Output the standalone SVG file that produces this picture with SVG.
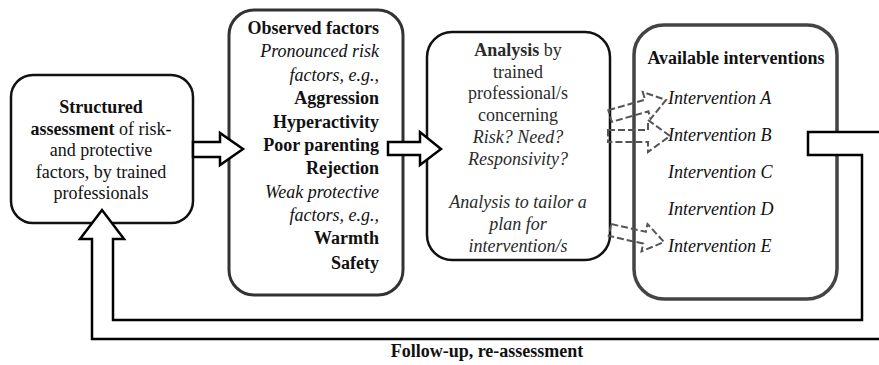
<svg xmlns="http://www.w3.org/2000/svg" width="879" height="365" viewBox="0 0 879 365" font-family="'Liberation Serif', Tinos, 'Times New Roman', 'DejaVu Serif', serif">
<style>
.bg{fill:#fff}
.box{fill:#fff;stroke:#111;stroke-width:2.5}
.box2{fill:#fff;stroke:#333;stroke-width:3}
.box4{fill:none;stroke:#444;stroke-width:3.5}
text{font-family:'Liberation Serif', Tinos, 'Times New Roman', 'DejaVu Serif', serif;font-size:18px;fill:#111}
.b{font-weight:bold}
.i{font-style:italic}
.c{text-anchor:middle}
.r{text-anchor:end}
.g{fill:#2a2a2a}
.arrow{fill:#fff;stroke:#000;stroke-width:2.5;stroke-linejoin:miter}
.dash{fill:none;stroke:#555;stroke-width:2;stroke-dasharray:7 3}
</style>
<rect class="bg" x="0" y="0" width="879" height="365"/>

<g id="node-assessment">
<rect class="box" x="11" y="75" width="182" height="148" rx="22"/>
<text class="c" x="101" y="113"><tspan class="b">Structured</tspan></text>
<text class="c" x="101" y="135"><tspan class="b">assessment</tspan> of risk-</text>
<text class="c" x="101" y="156">and protective</text>
<text class="c" x="101" y="178">factors, by trained</text>
<text class="c" x="101" y="199">professionals</text>
</g>

<g id="node-observed">
<rect class="box2" x="229" y="10" width="174" height="285" rx="25"/>
<text class="r b" x="379" y="34">Observed factors</text>
<text class="r i" x="379" y="57">Pronounced risk</text>
<text class="r i" x="379" y="81">factors, e.g.,</text>
<text class="r b" x="379" y="104">Aggression</text>
<text class="r b" x="379" y="128">Hyperactivity</text>
<text class="r b" x="379" y="151">Poor parenting</text>
<text class="r b" x="379" y="174">Rejection</text>
<text class="r i" x="379" y="198">Weak protective</text>
<text class="r i" x="379" y="221">factors, e.g.,</text>
<text class="r b" x="379" y="244">Warmth</text>
<text class="r b" x="379" y="269">Safety</text>
</g>

<g id="node-analysis">
<rect class="box" x="427" y="32" width="183" height="228" rx="25"/>
<text class="c g" x="518" y="56"><tspan class="b">Analysis</tspan> by</text>
<text class="c g" x="518" y="78">trained</text>
<text class="c g" x="518" y="99">professional/s</text>
<text class="c g" x="518" y="121">concerning</text>
<text class="c g i" x="518" y="143">Risk? Need?</text>
<text class="c g i" x="518" y="165">Responsivity?</text>
<text class="c g i" x="518" y="208">Analysis to tailor a</text>
<text class="c g i" x="518" y="230">plan for</text>
<text class="c g i" x="518" y="252">intervention/s</text>
</g>

<g id="node-interventions">
<rect class="box4" x="634" y="25" width="203" height="274" rx="30"/>
<text class="c b" x="736" y="64">Available interventions</text>
<text class="i" x="668" y="104">Intervention A</text>
<text class="i" x="668" y="141">Intervention B</text>
<text class="i" x="668" y="178">Intervention C</text>
<text class="i" x="668" y="215">Intervention D</text>
<text class="i" x="668" y="252">Intervention E</text>
</g>

<g id="connectors">
<polygon class="arrow" points="193,142 220,142 220,133 243,149 220,165 220,157 193,157"/>
<polygon class="arrow" points="388,142 420,142 420,132 441,149 420,165 420,155 388,155"/>
<polygon class="dash" points="608.3,110.2 645,99.7 642.8,92 666,100 650.6,119 648.4,111.3 611.7,121.8"/>
<polygon class="dash" points="608,130 648,130 648,120 670,136 648,152 648,142 608,142"/>
<polygon class="dash" points="611.3,224.1 645.8,231.8 647.5,224 664,242 641.5,251.4 643.2,243.6 608.7,235.9"/>
<path class="arrow" d="M885,132 L808,132 L808,155 L862,155 L862,320 L113,320 L113,239 L124,239 L102,210 L80,239 L92,239 L92,339 L885,339 Z"/>
<text class="c b" x="487" y="357">Follow-up, re-assessment</text>
</g>
</svg>
